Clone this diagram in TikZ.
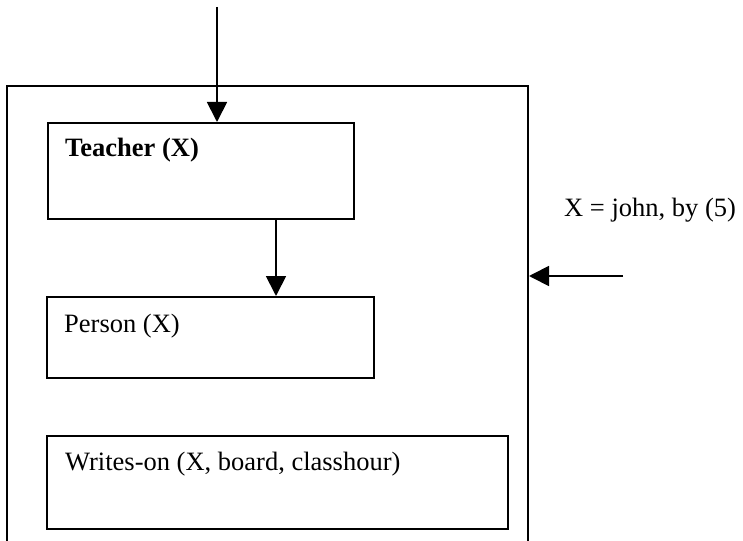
\documentclass[tikz,border=0pt]{standalone}
\usepackage{fontspec}
\setmainfont{Liberation Serif}
\usetikzlibrary{arrows.meta}

\tikzset{
  predbox/.style={draw, line width=1.8pt, inner sep=0, anchor=north west},
  predtext/.style={anchor=base west, inner sep=0, font=\fontsize{26.5}{32}\selectfont},
  flow/.style={line width=1.8pt, -{Triangle[length=20pt,width=20pt]}}
}

\begin{document}
\begin{tikzpicture}[x=1pt, y=-1pt]
    \useasboundingbox (0,0) rectangle (743,540);
    \clip (0,0) rectangle (743,540);
    % outer frame, bottom edge runs off the page
    \node[predbox, line width=2pt, minimum width=521pt, minimum height=480pt] (frame) at (6,85) {};
    \node[predbox, minimum width=306pt, minimum height=96pt] (teacher) at (47,122) {};
    \node[predbox, minimum width=327pt, minimum height=81pt] (person) at (46,296) {};
    \node[predbox, minimum width=461pt, minimum height=93pt] (writes) at (46,435) {};
    \node[predtext, font=\fontsize{26.5}{32}\selectfont\bfseries] (tlbl) at (65,157) {Teacher (X)};
    \node[predtext] (plbl) at (64,332) {Person (X)};
    \node[predtext] (wlbl) at (65,470) {Writes-on (X, board, classhour)};
    \node[predtext] (bind) at (564,216) {X = john, by (5)};
    % connectors
    \coordinate (query) at (217,7);
    \coordinate (xin) at (623,276);
    \draw[flow] (query) -- (query |- teacher.north);
    \draw[flow] (teacher.south -| 276,0) -- (person.north -| 276,0);
    \draw[flow] (xin) -- (xin -| frame.east);
\end{tikzpicture}
\end{document}
